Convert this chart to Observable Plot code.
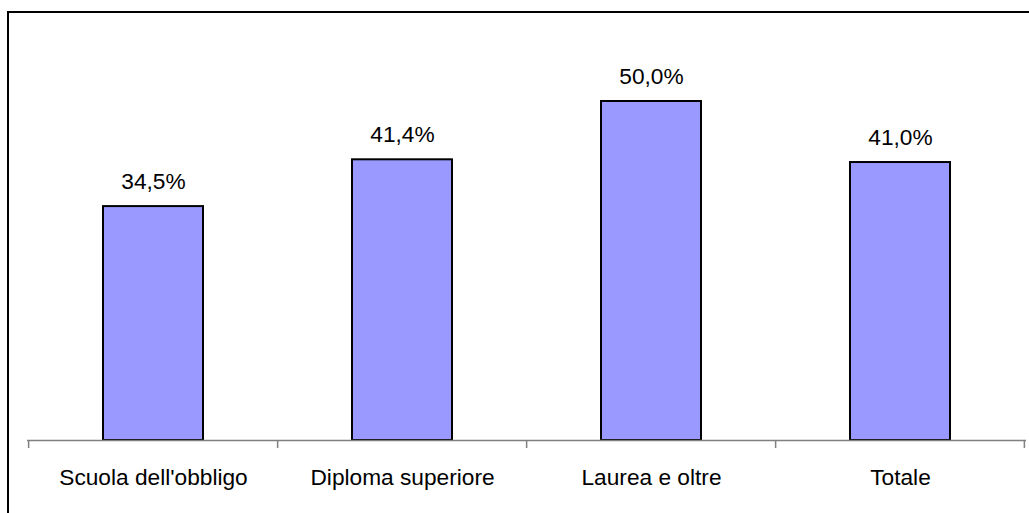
<!DOCTYPE html>
<html>
<head>
<meta charset="utf-8">
<script src="https://cdn.jsdelivr.net/npm/d3@7"></script>
<script src="https://cdn.jsdelivr.net/npm/@observablehq/plot@0.6"></script>
<style>
  html, body { margin: 0; padding: 0; background: #fff; overflow: hidden; width: 1029px; height: 513px; }
  #frame { position: absolute; left: 7px; top: 11px; width: 1100px; height: 600px; border: 2px solid #000; box-sizing: border-box; }
  #chart { position: absolute; left: 0; top: 0; }
</style>
</head>
<body>
<div id="frame"></div>
<div id="chart"></div>
<script>
const categories = ["Scuola dell'obbligo", "Diploma superiore", "Laurea e oltre", "Totale"];
const values = [34.5, 41.4, 50.0, 41.0];

const data = categories.map((c, i) => ({ category: c, value: values[i] }));
const W = 1029, H = 513, mL = 27, mR = 3, mT = 101, mB = 73;
const step = (W - mL - mR) / categories.length;
const fmt = v => v.toFixed(1).replace(".", ",") + "%";
const font = "Liberation Sans, Arial, sans-serif";

const chart = Plot.plot({
  width: W,
  height: H,
  marginLeft: mL,
  marginRight: mR,
  marginTop: mT,
  marginBottom: mB,
  style: { fontFamily: font, background: "transparent", overflow: "visible" },
  x: { type: "band", domain: categories, paddingInner: 0.6, paddingOuter: 0.3, axis: null },
  y: { domain: [0, 50], axis: null },
  marks: [
    Plot.barY(data, { x: "category", y: "value", fill: "#9999FF", stroke: "#000", strokeWidth: 2 }),
    Plot.ruleY([0], { stroke: "#808080", strokeWidth: 1.5 }),
    Plot.ruleX(categories, { x: d => d, y1: 0, y2: 0, insetBottom: -8, dx: -step / 2, stroke: "#808080", strokeWidth: 1.5 }),
    Plot.ruleX([categories[categories.length - 1]], { x: d => d, y1: 0, y2: 0, insetBottom: -8, dx: step / 2 - 1, stroke: "#808080", strokeWidth: 1.5 }),
    Plot.text(data, { x: "category", y: "value", text: d => fmt(d.value), lineAnchor: "bottom", dy: -18, fontSize: 22.7, fill: "#000" }),
    Plot.text(data, { x: "category", y: 0, text: "category", lineAnchor: "bottom", dy: 44, fontSize: 22.7, fill: "#000" })
  ]
});
document.getElementById("chart").appendChild(chart);
</script>
</body>
</html>
